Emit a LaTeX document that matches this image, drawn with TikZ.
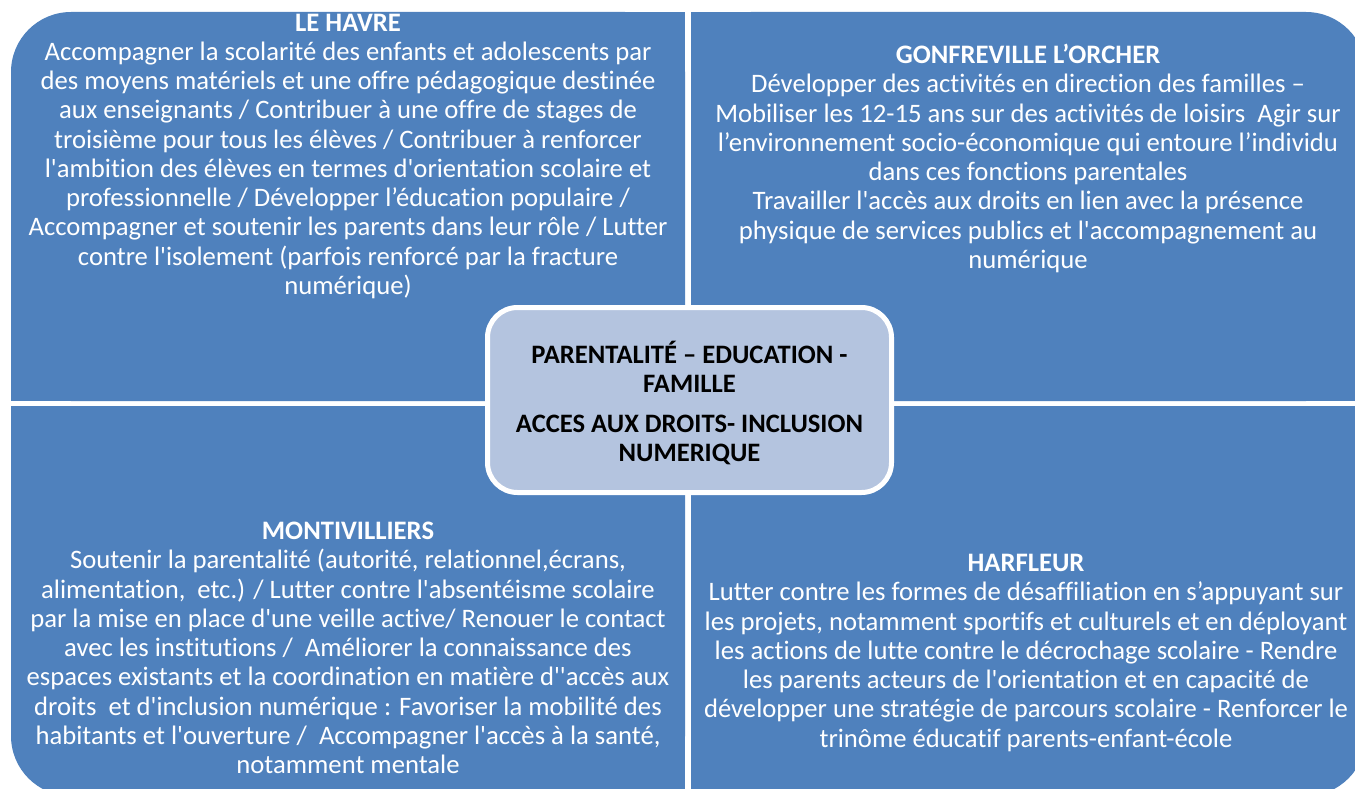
\documentclass[tikz,border=0pt]{standalone}
\usepackage{fontspec}
\setmainfont{Carlito}[Ligatures={TeXOff,NoCommon}]
\definecolor{qblue}{HTML}{4F81BD}
\definecolor{cfill}{HTML}{B4C4DF}
\begin{document}
\begin{tikzpicture}[x=1pt,y=-1pt,
  quad/.style={fill=qblue},
  qtext/.style={text=white, align=center, inner sep=0pt, anchor=north, font=\fontsize{26.67}{29.25}\selectfont},
  ctext/.style={text=black, align=center, inner sep=0pt, anchor=north, font=\bfseries\fontsize{26.6}{29.3}\selectfont}]
\useasboundingbox (0,0) rectangle (1355,789);
\clip (0,0) rectangle (1355,789);
% top-left quadrant
\fill[quad, rounded corners=60pt] (11,12) rectangle (685,401);
\fill[quad] (300,12) rectangle (685,401);
\fill[quad] (11,200) rectangle (685,401);
% top-right quadrant
\fill[quad, rounded corners=60pt] (691,12) rectangle (1366,401);
\fill[quad] (691,12) rectangle (1200,401);
\fill[quad] (691,200) rectangle (1366,401);
% bottom-left quadrant
\fill[quad, rounded corners=60pt] (11,406) rectangle (685,796);
\fill[quad] (11,406) rectangle (685,600);
\fill[quad] (300,406) rectangle (685,796);
% bottom-right quadrant
\fill[quad, rounded corners=60pt] (691,406) rectangle (1366,796);
\fill[quad] (691,406) rectangle (1366,600);
\fill[quad] (691,406) rectangle (1200,796);

\node[qtext] (havre) at (348,10.5) {\strut\textbf{LE HAVRE}\\
Accompagner la scolarité des enfants et adolescents par\\
des moyens matériels et une offre pédagogique destinée\\
aux enseignants / Contribuer à une offre de stages de\\
troisième pour tous les élèves / Contribuer à renforcer\\
l'ambition des élèves en termes d'orientation scolaire et\\
professionnelle / Développer l’éducation populaire /\\
Accompagner et soutenir les parents dans leur rôle / Lutter\\
contre l'isolement (parfois renforcé par la fracture\\
numérique)};

\node[qtext] (gonfreville) at (1028,43) {\strut\textbf{GONFREVILLE L’ORCHER}\\
Développer des activités en direction des familles –\\
Mobiliser les 12-15 ans sur des activités de loisirs\ \ Agir sur\\
l’environnement socio-économique qui entoure l’individu\\
dans ces fonctions parentales\\
Travailler l'accès aux droits en lien avec la présence\\
physique de services publics et l'accompagnement au\\
numérique};

\node[qtext] (montivilliers) at (348,519) {\strut\textbf{MONTIVILLIERS}\\
Soutenir la parentalité (autorité, relationnel,écrans,\\
alimentation,\ \ etc.) / Lutter contre l'absentéisme scolaire\\
par la mise en place d'une veille active/ Renouer le contact\\
avec les institutions /\ \ Améliorer la connaissance des\\
espaces existants et la coordination en matière d''accès aux\\
droits\ \ et d'inclusion numérique : Favoriser la mobilité des\\
habitants et l'ouverture /\ \ Accompagner l'accès à la santé,\\
notamment mentale};

\node[qtext] (harfleur) at (1026,551) {\strut\textbf{HARFLEUR}\\
Lutter contre les formes de désaffiliation en s’appuyant sur\\
les projets, notamment sportifs et culturels et en déployant\\
les actions de lutte contre le décrochage scolaire - Rendre\\
les parents acteurs de l'orientation et en capacité de\\
développer une stratégie de parcours scolaire - Renforcer le\\
trinôme éducatif parents-enfant-école};

% center
\node[draw=white, line width=5pt, fill=cfill, rounded corners=30pt, minimum width=404pt, minimum height=185pt, inner sep=0pt] (centre) at (689.5,400) {};
\node[ctext] (theme) at (689.5,340.5) {\strut PARENTALITÉ – EDUCATION -\\
FAMILLE\\[11pt]
ACCES AUX DROITS- INCLUSION\\
NUMERIQUE};
\end{tikzpicture}
\end{document}
